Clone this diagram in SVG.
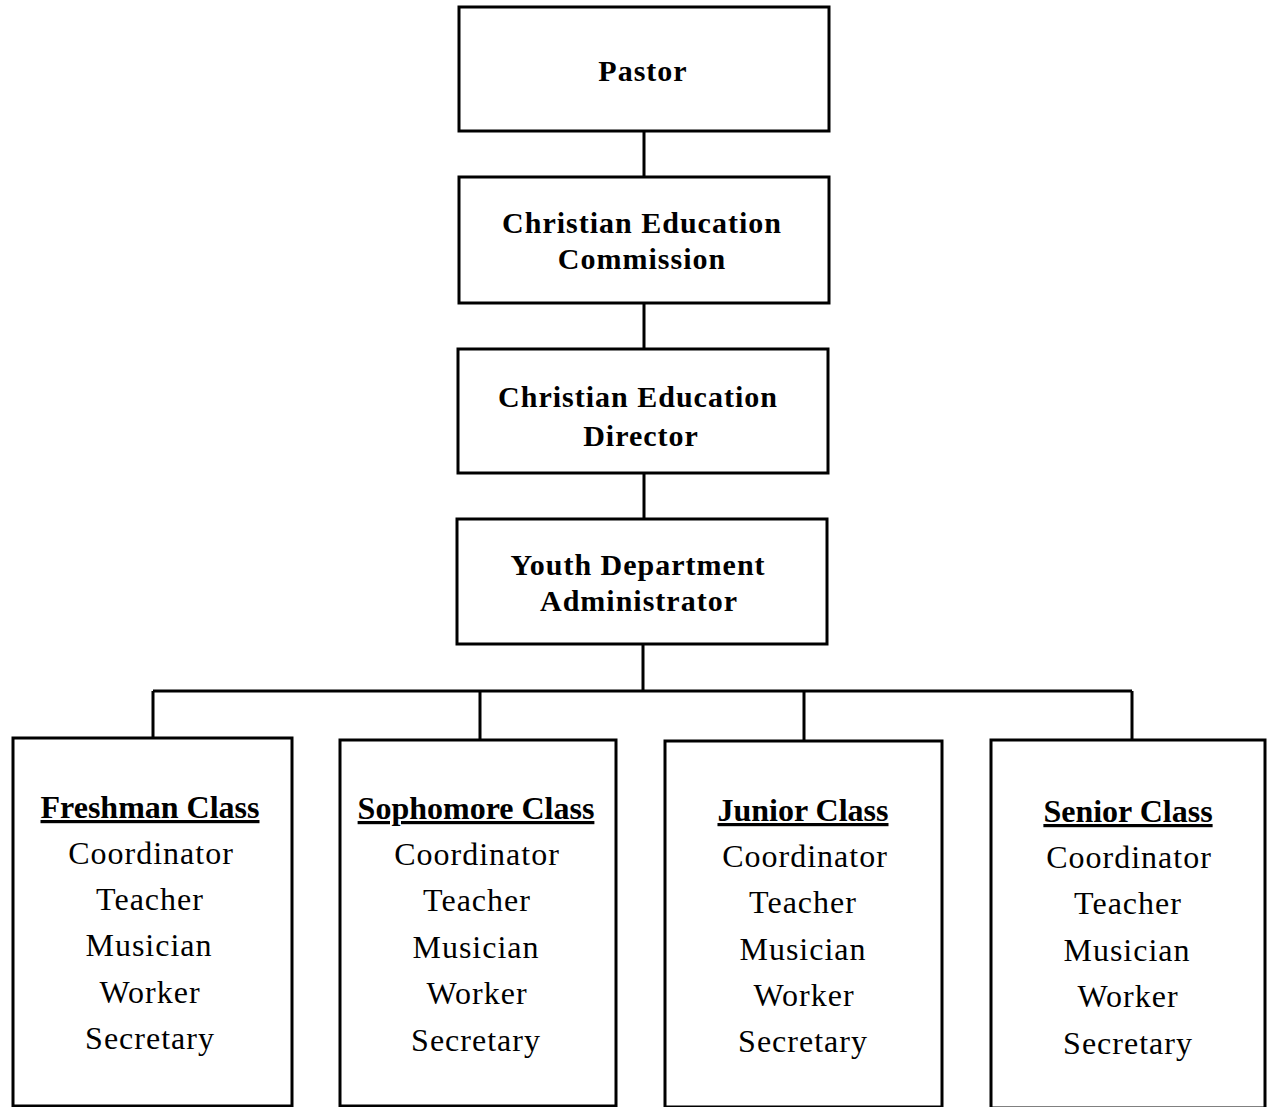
<svg xmlns="http://www.w3.org/2000/svg" width="1267" height="1107" viewBox="0 0 1267 1107">
<style>
.box{fill:#fff;stroke:#000;stroke-width:3}
.con{fill:none;stroke:#000;stroke-width:3}
.h{font-family:"Liberation Serif","Times New Roman",serif;font-weight:bold;font-size:30px;letter-spacing:1px;text-anchor:middle;fill:#000}
.t{font-family:"Liberation Serif","Times New Roman",serif;font-weight:bold;font-size:32px;text-anchor:middle;text-decoration:underline;fill:#000}
.r{font-family:"Liberation Serif","Times New Roman",serif;font-size:32px;letter-spacing:1px;text-anchor:middle;fill:#000}
</style>
<rect width="1267" height="1107" fill="#fff"/>
<g id="connectors">
<path class="con" d="M644 131V177M644 303V349M644 473V519M643 644V691M153 691H1132M153 691V738M480 691V740M804 691V741M1132 691V740"/>
</g>
<g id="pastor">
<rect class="box" x="459" y="7" width="370" height="124"/>
<text class="h" x="643" y="81">Pastor</text>
</g>
<g id="commission">
<rect class="box" x="459" y="177" width="370" height="126"/>
<text class="h" x="642" y="233">Christian Education</text>
<text class="h" x="642" y="269">Commission</text>
</g>
<g id="director">
<rect class="box" x="458" y="349" width="370" height="124"/>
<text class="h" x="638" y="407">Christian Education</text>
<text class="h" x="641" y="446">Director</text>
</g>
<g id="administrator">
<rect class="box" x="457" y="519" width="370" height="125"/>
<text class="h" x="638" y="575">Youth Department</text>
<text class="h" x="639" y="611">Administrator</text>
</g>
<g id="freshman">
<rect class="box" x="13" y="738" width="279" height="368"/>
<text class="t" x="150" y="818">Freshman Class</text>
<text class="r" x="151" y="864">Coordinator</text>
<text class="r" x="150" y="910">Teacher</text>
<text class="r" x="149" y="956">Musician</text>
<text class="r" x="150" y="1003">Worker</text>
<text class="r" x="150" y="1049">Secretary</text>
</g>
<g id="sophomore">
<rect class="box" x="340" y="740" width="276" height="366"/>
<text class="t" x="476" y="819">Sophomore Class</text>
<text class="r" x="477" y="865">Coordinator</text>
<text class="r" x="477" y="911">Teacher</text>
<text class="r" x="476" y="958">Musician</text>
<text class="r" x="477" y="1004">Worker</text>
<text class="r" x="476" y="1051">Secretary</text>
</g>
<g id="junior">
<rect class="box" x="665" y="741" width="277" height="366"/>
<text class="t" x="803" y="821">Junior Class</text>
<text class="r" x="805" y="867">Coordinator</text>
<text class="r" x="803" y="913">Teacher</text>
<text class="r" x="803" y="960">Musician</text>
<text class="r" x="804" y="1006">Worker</text>
<text class="r" x="803" y="1052">Secretary</text>
</g>
<g id="senior">
<rect class="box" x="991" y="740" width="274" height="368"/>
<text class="t" x="1128" y="822">Senior Class</text>
<text class="r" x="1129" y="868">Coordinator</text>
<text class="r" x="1128" y="914">Teacher</text>
<text class="r" x="1127" y="961">Musician</text>
<text class="r" x="1128" y="1007">Worker</text>
<text class="r" x="1128" y="1054">Secretary</text>
</g>
</svg>
